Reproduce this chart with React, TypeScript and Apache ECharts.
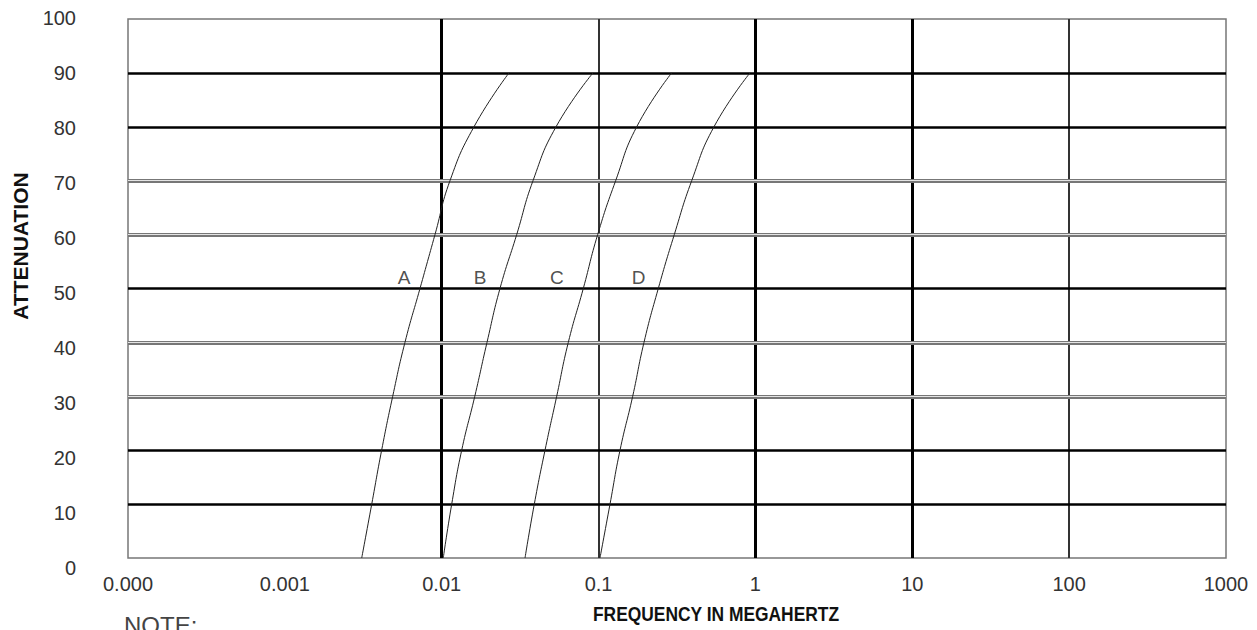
import React, { useEffect, useRef } from "react";
import * as echarts from "echarts";

const attenuation = [0, 10, 20, 30, 40, 50, 60, 70, 80, 90];
const curveA = [0.00309, 0.00358, 0.00414, 0.00487, 0.00583, 0.00727, 0.00906, 0.01129, 0.01606, 0.02685];
const curveB = [0.01023, 0.01158, 0.01341, 0.01625, 0.01944, 0.02352, 0.03006, 0.03819, 0.05355, 0.0921];
const curveC = [0.03397, 0.03893, 0.04556, 0.05408, 0.06412, 0.07991, 0.0987, 0.1285, 0.175, 0.2924];
const curveD = [0.1021, 0.1183, 0.137, 0.165, 0.1948, 0.2403, 0.3039, 0.3924, 0.5442, 0.9232];
const curveNames = ["A", "B", "C", "D"];
const labelFreqs = [0.00575, 0.01754, 0.0543, 0.18];
const labelLevel = 52;

const xTickLabels = ["0.000", "0.001", "0.01", "0.1", "1", "10", "100", "1000"];
const yTickLabels = ["0", "10", "20", "30", "40", "50", "60", "70", "80", "90", "100"];
const boldVerticals = [0.01, 1, 10];
const thinVerticals = [0.001, 0.1, 100];
const boldHorizontals = [90, 80, 50, 20, 10];
const doubleHorizontals = [70, 60, 40, 30];

const FONT = "'Liberation Sans', Arial, sans-serif";

export default function App() {
  const ref = useRef<HTMLDivElement>(null);
  useEffect(() => {
    if (!ref.current) return;
    const chart = echarts.init(ref.current, null, { renderer: "svg" });
    const curves = [curveA, curveB, curveC, curveD];
    const markData: any[] = [];
    thinVerticals.forEach((v) => markData.push({ xAxis: v, lineStyle: { color: "#333", width: 2, type: "solid" } }));
    boldVerticals.forEach((v) => markData.push({ xAxis: v, lineStyle: { color: "#000", width: 3, type: "solid" } }));
    doubleHorizontals.forEach((v) => markData.push({ yAxis: v, lineStyle: { color: "#777", width: 4, type: "solid" } }));
    doubleHorizontals.forEach((v) => markData.push({ yAxis: v, lineStyle: { color: "#e4e4e4", width: 1.2, type: "solid" } }));
    boldHorizontals.forEach((v) => markData.push({ yAxis: v, lineStyle: { color: "#000", width: 2.6, type: "solid" } }));

    const series: any[] = [
      {
        type: "line",
        xAxisIndex: 0,
        yAxisIndex: 0,
        data: [],
        silent: true,
        z: 1,
        markLine: {
          silent: true,
          symbol: "none",
          label: { show: false },
          animation: false,
          data: markData,
        },
      },
    ];
    curves.forEach((c, i) => {
      series.push({
        type: "line",
        name: curveNames[i],
        xAxisIndex: 0,
        yAxisIndex: 0,
        data: c.map((f, j) => [f, attenuation[j]]),
        showSymbol: false,
        smooth: 0.5,
        lineStyle: { color: "#222", width: 1 },
        z: 5,
      });
    });
    series.push({
      type: "scatter",
      xAxisIndex: 0,
      yAxisIndex: 0,
      symbolSize: 0,
      data: labelFreqs.map((f, i) => [f, labelLevel, curveNames[i]]),
      label: {
        show: true,
        position: "inside",
        formatter: (p: any) => p.data[2],
        color: "#222",
        fontSize: 19,
        fontFamily: FONT,
      },
      z: 6,
    });

    chart.setOption({
      animation: false,
      backgroundColor: "#fff",
      grid: [
        { left: 128, top: 19, width: 1098, height: 539, show: true, borderColor: "#777", borderWidth: 1.5 },
        { left: 128, top: 18, width: 1098, height: 550, show: false },
      ],
      xAxis: [
        {
          type: "log",
          logBase: 10,
          min: 0.0001,
          max: 1000,
          gridIndex: 0,
          axisLine: { show: false },
          axisTick: { show: false },
          splitLine: { show: false },
          axisLabel: {
            margin: 16,
            fontSize: 20,
            color: "#333",
            fontFamily: FONT,
            formatter: (v: number) => xTickLabels[Math.round(Math.log10(v)) + 4] ?? "",
          },
        },
        { type: "value", gridIndex: 1, show: false, min: 0, max: 1 },
      ],
      yAxis: [
        {
          type: "value",
          min: 0,
          max: 100,
          interval: 10,
          gridIndex: 0,
          axisLine: { show: false },
          axisTick: { show: false },
          splitLine: { show: false },
          axisLabel: { show: false },
        },
        {
          type: "value",
          min: 0,
          max: 100,
          interval: 10,
          gridIndex: 1,
          axisLine: { show: false },
          axisTick: { show: false },
          splitLine: { show: false },
          axisLabel: {
            margin: 52,
            fontSize: 20,
            color: "#333",
            fontFamily: FONT,
            formatter: (v: number) => yTickLabels[Math.round(v / 10)] ?? "",
          },
        },
      ],
      graphic: [
        {
          type: "text",
          x: 20,
          y: 246,
          rotation: Math.PI / 2,
          style: {
            text: "ATTENUATION",
            font: `bold 21px ${FONT}`,
            fill: "#111",
            align: "center",
            verticalAlign: "middle",
          },
        },
        {
          type: "text",
          x: 716,
          y: 614,
          scaleX: 0.87,
          style: {
            text: "FREQUENCY IN MEGAHERTZ",
            font: `bold 20px ${FONT}`,
            fill: "#111",
            align: "center",
            verticalAlign: "middle",
          },
        },
        {
          type: "text",
          x: 124,
          y: 613,
          style: {
            text: "NOTE:",
            font: `24px ${FONT}`,
            fill: "#444",
            align: "left",
            verticalAlign: "top",
          },
        },
      ],
      series,
    });
    return () => chart.dispose();
  }, []);
  return (
    <div
      ref={ref}
      style={{ position: "absolute", left: 0, top: 0, width: 1257, height: 630 }}
    />
  );
}
